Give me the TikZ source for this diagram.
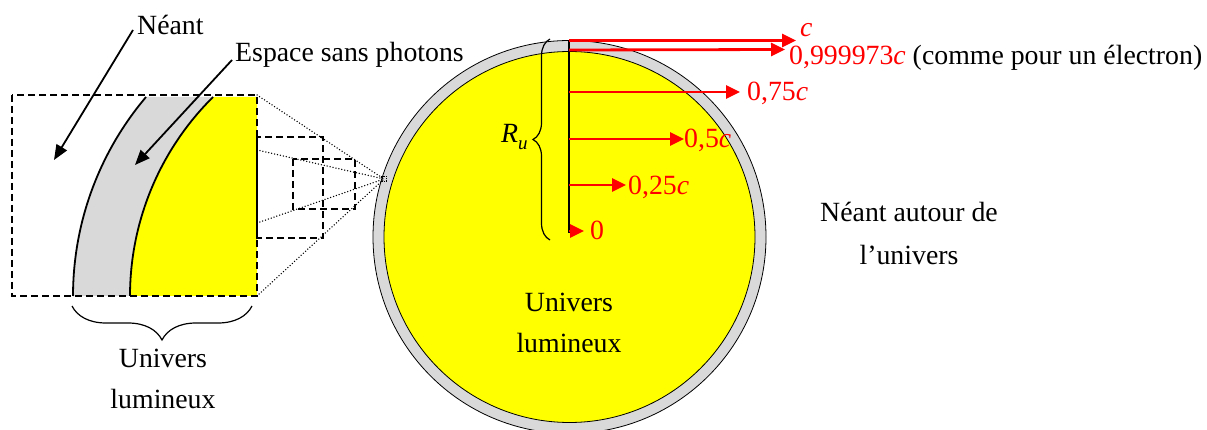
\documentclass[tikz,border=0pt]{standalone}
\usepackage{fontspec}
\setmainfont{Liberation Serif}
\usetikzlibrary{arrows.meta,decorations.pathreplacing}
\definecolor{bandgray}{RGB}{217,217,217}
\definecolor{univyellow}{RGB}{255,255,0}
\definecolor{velred}{RGB}{255,0,0}
\begin{document}
\begin{tikzpicture}[x=1pt,y=-1pt,
  txt/.style={font=\fontsize{27.8}{30}\selectfont, inner sep=0pt},
  redtxt/.style={txt, text=velred},
  velarrow/.style={draw=velred, line width=2.8pt, -{Triangle[length=14pt,width=13pt]}},
  pointer/.style={draw=black, line width=1.8pt, -{Triangle[length=15pt,width=12pt]}},
  zoombox/.style={draw=black, line width=1.3pt, dash pattern=on 7pt off 4pt},
  projline/.style={draw=black, line width=1.5pt, line cap=round, dash pattern=on 0pt off 3pt},
  bracestyle/.style={draw=black, line width=1.2pt, decorate},
]
\useasboundingbox (0,0) rectangle (1207,430);

% ---------- big circle ----------
\coordinate (cc) at (569.5,237);
\fill[bandgray, draw=black, line width=0.8pt] (cc) circle[radius=196.5];
\fill[univyellow, draw=black, line width=0.8pt] (cc) circle[radius=185.5];

% ---------- inset ----------
\fill[bandgray] plot[domain=180:220.3, samples=50] ({380.7+307.7*cos(\x)},{296+307.7*sin(\x)})
   -- plot[domain=225.3:180, samples=50] ({410+280*cos(\x)},{296+280*sin(\x)}) -- cycle;
\fill[univyellow] plot[domain=180:225.3, samples=50] ({410+280*cos(\x)},{296+280*sin(\x)})
   -- (257,97) -- (257,296) -- cycle;
\draw[line width=1.8pt] plot[domain=180:220.3, samples=50] ({380.7+307.7*cos(\x)},{296+307.7*sin(\x)});
\draw[line width=1.8pt] plot[domain=180:225.3, samples=50] ({410+280*cos(\x)},{296+280*sin(\x)});

\draw[zoombox] (12,95) rectangle (257,296);
\draw[zoombox] (257,137) rectangle (323,238);
\draw[zoombox] (293,159) rectangle (355,209);
\draw[line width=0.8pt, dash pattern=on 1.5pt off 1pt] (381,176.5) rectangle (386.5,181.5);

\coordinate (focus) at (384,179);
\coordinate (p1) at (257,95);
\coordinate (p2) at (257,150);
\coordinate (p3) at (257,223);
\coordinate (p4) at (257,296);
\foreach \p in {p1,p2,p3,p4} \draw[projline] (\p) -- (focus);

% ---------- labels on the left ----------
\node[txt, anchor=base west] (neant) at (137,35) {Néant};
\node[txt, anchor=base west] (espace) at (235,61.7) {Espace sans photons};
\coordinate (neantstart) at (133,30);
\coordinate (neantend) at (54,160);
\coordinate (espstart) at (232,60);
\coordinate (espend) at (135,165);
\draw[pointer] (neantstart) -- (neantend);
\draw[pointer] (espstart) -- (espend);

\draw[bracestyle, decoration={brace, amplitude=34pt, aspect=0.5}] (252,306) -- (72,306);
\node[txt, anchor=base] (univL1) at (163,367) {Univers};
\node[txt, anchor=base] (univL2) at (163,408) {lumineux};

% ---------- radius and velocities ----------
\coordinate (top) at (569,40);
\coordinate (ctr) at (569,233);
\draw[line width=1.6pt] (top) -- (ctr);
\draw[bracestyle, decoration={brace, amplitude=17pt, aspect=0.5}] (550,240) -- (550,39);
\node[txt, anchor=base west] (ru) at (501,143) {\textit{R}\raisebox{-0.22em}{\fontsize{19}{20}\selectfont\textit{u}}};

\coordinate (sc) at (569,40.5);   \coordinate (tc) at (796,40.5);
\coordinate (s9) at (569,50);     \coordinate (t9) at (785,49.5);
\coordinate (s75) at (569,92);    \coordinate (t75) at (740,92);
\coordinate (s5) at (569,139);    \coordinate (t5) at (684,139);
\coordinate (s25) at (569,185);   \coordinate (t25) at (626,185);
\coordinate (s0) at (569,231);    \coordinate (t0) at (584,231);
\draw[velarrow] (sc) -- (tc);
\draw[velarrow] (s9) -- (t9);
\draw[velarrow] (s75) -- (t75);
\draw[velarrow] (s5) -- (t5);
\draw[velarrow] (s25) -- (t25);
\draw[velarrow] (s0) -- (t0);

\node[redtxt, anchor=base west] (lc) at (800,37) {\textit{c}};
\node[redtxt, anchor=base west] (l9) at (789,65) {0,999973\textit{c}\ \textcolor{black}{(comme pour un électron)}};
\node[redtxt, anchor=base west] (l75) at (747,101) {0,75\textit{c}};
\node[redtxt, anchor=base west] (l5) at (684,148) {0,5\textit{c}};
\node[redtxt, anchor=base west] (l25) at (628,195) {0,25\textit{c}};
\node[redtxt, anchor=base west] (l0) at (590,240) {0};

% ---------- circle labels ----------
\node[txt, anchor=base] (univC1) at (569,312) {Univers};
\node[txt, anchor=base] (univC2) at (569,352) {lumineux};
\node[txt, anchor=base] (na1) at (909,222) {Néant autour de};
\node[txt, anchor=base] (na2) at (909,265) {l’univers};
\end{tikzpicture}
\end{document}
